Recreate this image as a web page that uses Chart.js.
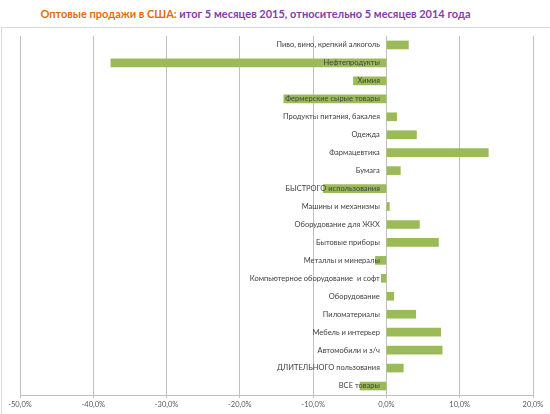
<!DOCTYPE html>
<html>
<head>
<meta charset="utf-8">
<script src="https://cdn.jsdelivr.net/npm/chart.js@4.4.1/dist/chart.umd.min.js"></script>
<style>
  html, body { margin: 0; padding: 0; background: #fff; overflow: hidden; }
  #wrap { position: relative; width: 550px; height: 414px; }
  #frame {
    position: absolute; left: 1px; top: 27px; width: 600px; height: 420px;
    border: 1px solid #d9d9d9;
  }
  #title {
    position: absolute; left: 0; top: 7px; width: 511px; text-align: center;
    font-family: Lato, sans-serif; font-weight: bold; font-size: 11px;
  }
  #title .a { color: #e36c0a; }
  #title .b { color: #8040a8; }
  #chart { position: absolute; left: 0; top: 0; }
</style>
</head>
<body>
<div id="wrap">
  <div id="frame"></div>
  <div id="title"><span class="a">Оптовые продажи в США:</span> <span class="b">итог 5 месяцев 2015, относительно 5 месяцев 2014 года</span></div>
  <canvas id="chart" width="550" height="414"></canvas>
</div>
<script>
  // категории сверху вниз
  var categories = [
    'Пиво, вино, крепкий алкоголь',
    'Нефтепродукты',
    'Химия',
    'Фермерские сырые товары',
    'Продукты питания, бакалея',
    'Одежда',
    'Фармацевтика',
    'Бумага',
    'БЫСТРОГО использования',
    'Машины и механизмы',
    'Оборудование для ЖКХ',
    'Бытовые приборы',
    'Металлы и минералы',
    'Компьютерное оборудование  и софт',
    'Оборудование',
    'Пиломатериалы',
    'Мебель и интерьер',
    'Автомобили и з/ч',
    'ДЛИТЕЛЬНОГО пользования',
    'ВСЕ товары'
  ];

  // изменение, % (5 мес. 2015 к 5 мес. 2014)
  var changes = [3.0, -37.6, -4.5, -14.0, 1.4, 4.1, 13.9, 1.9, -8.6, 0.4,
                 4.5, 7.1, -1.5, -0.7, 1.0, 4.0, 7.4, 7.6, 2.3, -3.6];

  var xMin = -50, xMax = 20, xStep = 10;

  var ctx = document.getElementById('chart').getContext('2d');
  new Chart(ctx, {
    type: 'bar',
    data: {
      labels: categories,
      datasets: [{
        data: changes,
        backgroundColor: '#9bbb59',
        borderWidth: 0,
        barThickness: 8
      }]
    },
    options: {
      indexAxis: 'y',
      responsive: false,
      animation: false,
      layout: { padding: { left: 20, right: 17, top: 36, bottom: 3 } },
      plugins: {
        legend: { display: false },
        tooltip: { enabled: false }
      },
      scales: {
        x: {
          min: xMin,
          max: xMax,
          ticks: {
            stepSize: xStep,
            color: '#595959',
            font: { family: 'Lato', size: 7.5 },
            padding: 2,
            callback: function(v) { return v.toFixed(1).replace('.', ',') + '%'; }
          },
          grid: { color: '#c0c0c0', tickLength: 3 },
          border: { color: '#c0c0c0' }
        },
        y: {
          // подписи категорий у нулевой линии, поверх столбиков
          position: { x: -0.9 },
          ticks: {
            z: 1,
            color: '#404040',
            font: { family: 'Lato', size: 7.5 },
            autoSkip: false
          },
          grid: { display: false },
          border: { display: false }
        }
      }
    }
  });
</script>
</body>
</html>
